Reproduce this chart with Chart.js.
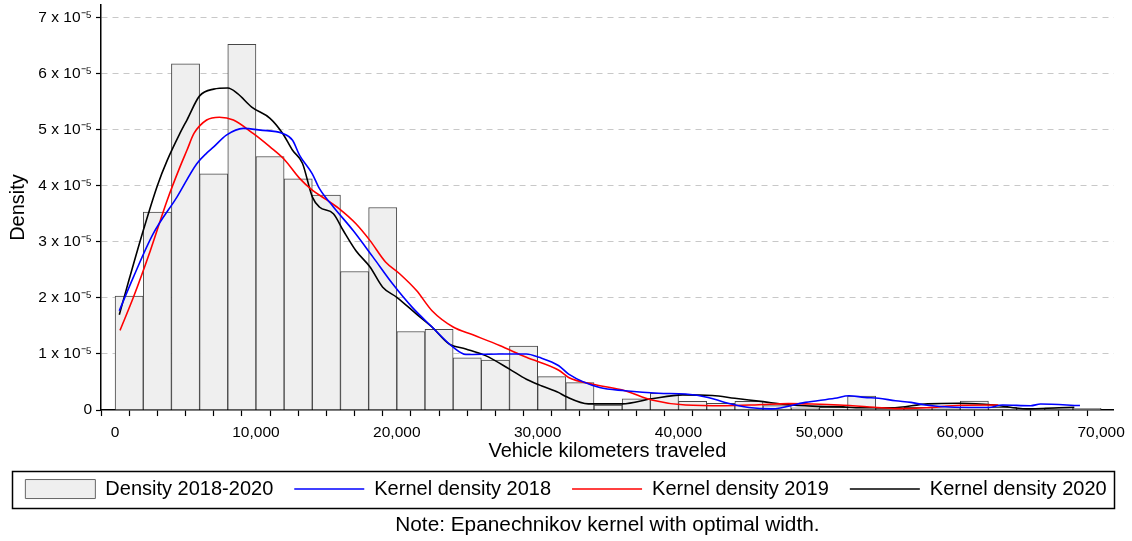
<!DOCTYPE html>
<html>
<head>
<meta charset="utf-8">
<script src="https://cdn.jsdelivr.net/npm/chart.js@4/dist/chart.umd.min.js"></script>
<style>
    html, body { margin: 0; padding: 0; background: #fff; }
</style>
</head>
<body>
<canvas id="vktChart" width="1132" height="541"></canvas>
<script>
// データ (density values are in units of 10^-5)
const binCenters = [
    1000, 3000, 5000, 7000, 9000, 11000, 13000, 15000, 17000, 19000,
    21000, 23000, 25000, 27000, 29000, 31000, 33000, 35000, 37000, 39000,
    41000, 43000, 45000, 47000, 49000, 51000, 53000, 55000, 57000, 59000,
    61000, 63000, 65000, 67000, 69000,
];
const binDensity = [
    2.03, 3.53, 6.17, 4.21, 6.52, 4.52, 4.12, 3.83, 2.47, 3.61,
    1.40, 1.44, 0.93, 0.89, 1.14, 0.595, 0.49, 0.09, 0.20, 0.30,
    0.155, 0.12, 0.155, 0.08, 0.04, 0.05, 0.25, 0.03, 0.05, 0.04,
    0.16, 0.05, 0.03, 0.04, 0.03,
];

const kde2018X = [
    300, 1300, 2700, 4400, 5800, 6500, 7000, 7900, 9100, 10300,
    11900, 12600, 13100, 14000, 14500, 15500, 16900, 18300, 19700, 21100,
    22500, 24000, 24900, 27300, 29200, 30100, 31500, 32200, 34400, 36200,
    38600, 40500, 42100, 43300, 45000, 46600, 49000, 51100, 52100, 53200,
    54200, 55400, 56500, 57500, 59600, 62000, 63000, 65000, 65700, 68500,
];
const kde2018Y = [
    1.77, 2.37, 3.14, 3.80, 4.39, 4.58, 4.69, 4.90, 5.02, 4.99,
    4.93, 4.81, 4.54, 4.21, 3.95, 3.62, 3.20, 2.73, 2.25, 1.83,
    1.48, 1.12, 0.99, 1.00, 1.00, 0.94, 0.79, 0.64, 0.40, 0.345,
    0.30, 0.285, 0.225, 0.136, 0.046, 0.02, 0.136, 0.21, 0.255, 0.225,
    0.21, 0.166, 0.136, 0.09, 0.05, 0.046, 0.09, 0.077, 0.107, 0.08,
];

const kde2019X = [
    350, 1300, 2500, 3700, 4600, 5100, 5600, 6500, 7400, 8400,
    9800, 11000, 12000, 13100, 14000, 15000, 15900, 17100, 18100, 19200,
    20200, 21400, 22500, 24000, 25400, 27300, 29200, 31500, 32200, 33900,
    36200, 38100, 40500, 43300, 45700, 47800, 49500, 51400, 53900, 55400,
    57600, 60000, 62700,
];
const kde2019Y = [
    1.42, 2.01, 2.84, 3.74, 4.33, 4.63, 4.93, 5.17, 5.22, 5.17,
    4.93, 4.69, 4.47, 4.13, 3.92, 3.75, 3.59, 3.32, 3.02, 2.64,
    2.43, 2.13, 1.77, 1.48, 1.34, 1.15, 0.94, 0.71, 0.58, 0.46,
    0.345, 0.18, 0.09, 0.077, 0.095, 0.115, 0.107, 0.09, 0.05, 0.025,
    0.04, 0.085, 0.09,
];

const kde2020X = [
    300, 1000, 2000, 3000, 3700, 4600, 5100, 6000, 7000, 8000,
    8700, 9700, 11000, 11900, 12600, 13300, 14000, 14500, 15500, 16200,
    17100, 18100, 19000, 20000, 21400, 22500, 23700, 24900, 26300, 28000,
    29200, 30300, 31500, 32000, 33600, 36000, 38100, 40300, 42400, 44000,
    46000, 47600, 49500, 51400, 53000, 55100, 57700, 60000, 62400, 64700,
    67000, 68100,
];
const kde2020Y = [
    1.70, 2.33, 3.20, 4.00, 4.45, 4.93, 5.17, 5.60, 5.72, 5.74,
    5.64, 5.40, 5.20, 4.93, 4.63, 4.40, 3.80, 3.62, 3.50, 3.20,
    2.84, 2.55, 2.19, 2.01, 1.71, 1.48, 1.18, 1.09, 0.97, 0.73,
    0.55, 0.43, 0.31, 0.24, 0.11, 0.11, 0.20, 0.27, 0.26, 0.21,
    0.15, 0.10, 0.07, 0.06, 0.04, 0.04, 0.11, 0.12, 0.09, 0.02,
    0.04, 0.05,
];

const seriesLabels = ['Density 2018-2020', 'Kernel density 2018', 'Kernel density 2019', 'Kernel density 2020'];
const yTickValues = [0, 1, 2, 3, 4, 5, 6, 7];
const xLabelStep = 10000;
const xTickStep = 2000;

const FONT = "'Liberation Sans', Arial, sans-serif";

function toPoints(xs, ys) {
    return xs.map((x, i) => ({ x: x, y: ys[i] }));
}

function kdeLine(label, color, xs, ys) {
    return {
        type: 'line',
        label: label,
        data: toPoints(xs, ys),
        borderColor: color,
        backgroundColor: color,
        borderWidth: 1.6,
        pointRadius: 0,
        fill: false,
        cubicInterpolationMode: 'monotone',
        order: 0,
    };
}

// legend frame
const legendFrame = {
    id: 'legendFrame',
    afterDraw(chart) {
        const lg = chart.legend;
        if (!lg || !lg.legendHitBoxes || !lg.legendHitBoxes.length) return;
        const hb = lg.legendHitBoxes[0];
        const cy = hb.top + hb.height / 2;
        const ctx = chart.ctx;
        ctx.save();
        ctx.strokeStyle = '#000';
        ctx.lineWidth = 1.5;
        ctx.strokeRect(12.5, Math.round(cy - 18.5) + 0.5, chart.width - 30, 37);
        ctx.restore();
    },
};

const ctx = document.getElementById('vktChart').getContext('2d');
new Chart(ctx, {
    type: 'bar',
    data: {
        datasets: [
            {
                type: 'bar',
                label: seriesLabels[0],
                data: toPoints(binCenters, binDensity),
                backgroundColor: '#efefef',
                borderColor: '#474747',
                borderWidth: 1,
                barPercentage: 1,
                categoryPercentage: 1,
                order: 1,
            },
            kdeLine(seriesLabels[1], '#0000ff', kde2018X, kde2018Y),
            kdeLine(seriesLabels[2], '#ff0000', kde2019X, kde2019Y),
            kdeLine(seriesLabels[3], '#000000', kde2020X, kde2020Y),
        ],
    },
    options: {
        responsive: false,
        animation: false,
        layout: { padding: { top: 5, right: 0, bottom: 0, left: 0 } },
        scales: {
            x: {
                type: 'linear',
                min: -1000,
                max: 70900,
                offset: false,
                afterBuildTicks: (scale) => {
                    const ticks = [];
                    for (let v = 0; v <= 70000; v += xTickStep) ticks.push({ value: v });
                    scale.ticks = ticks;
                },
                afterFit: (scale) => { scale.height = 48; },
                ticks: {
                    autoSkip: false,
                    maxRotation: 0,
                    padding: 7,
                    color: '#000',
                    font: { family: FONT, size: 15.5 },
                    callback: (v) => (v % xLabelStep === 0 ? v.toLocaleString('en-US') : ''),
                },
                grid: {
                    drawOnChartArea: false,
                    color: '#000',
                    tickLength: 6,
                    tickWidth: 1.2,
                },
                border: { color: '#000', width: 1.5 },
                title: {
                    display: true,
                    text: 'Vehicle kilometers traveled',
                    color: '#000',
                    font: { family: FONT, size: 20 },
                    padding: { top: 0, bottom: -5 },
                },
            },
            y: {
                type: 'linear',
                min: 0,
                max: 7.22,
                afterBuildTicks: (scale) => {
                    scale.ticks = yTickValues.map((v) => ({ value: v }));
                },
                afterFit: (scale) => {
                    scale.width = 101;
                    scale.paddingTop = 0;
                    scale.paddingBottom = 0;
                },
                ticks: {
                    padding: 4,
                    color: '#000',
                    font: { family: FONT, size: 15.5 },
                    callback: (v) => (v === 0 ? '0' : v + ' x 10\u207B\u2075'),
                },
                grid: {
                    color: (c) => (c.tick && c.tick.value === 0 ? 'rgba(0,0,0,0)' : '#c8c8c8'),
                    tickColor: '#000',
                    tickLength: 5,
                    tickWidth: 1.2,
                    lineWidth: 1,
                },
                border: { color: '#000', width: 1.5, dash: [6, 5] },
                title: {
                    display: true,
                    text: 'Density',
                    color: '#000',
                    font: { family: FONT, size: 20 },
                    padding: { top: 6, bottom: 0 },
                },
            },
            yRight: {
                type: 'linear',
                position: 'right',
                display: true,
                afterFit: (scale) => {
                    scale.width = 16;
                    scale.paddingTop = 0;
                    scale.paddingBottom = 0;
                },
                ticks: { display: false },
                grid: { display: false },
                border: { display: false },
            },
        },
        plugins: {
            legend: {
                position: 'bottom',
                labels: {
                    usePointStyle: true,
                    pointStyleWidth: 70,
                    boxHeight: 19,
                    padding: 21,
                    color: '#000',
                    font: { family: FONT, size: 20 },
                    sort: (a, b) => a.datasetIndex - b.datasetIndex,
                    generateLabels: (chart) =>
                        Chart.defaults.plugins.legend.labels.generateLabels(chart).map((item) => {
                            if (item.datasetIndex === 0) {
                                item.pointStyle = 'rect';
                                item.strokeStyle = '#666';
                                item.lineWidth = 1;
                            } else {
                                item.pointStyle = 'line';
                            }
                            return item;
                        }),
                },
            },
            title: {
                display: true,
                position: 'bottom',
                fullSize: false,
                text: 'Note: Epanechnikov kernel with optimal width.',
                color: '#000',
                font: { family: FONT, size: 20.8, weight: 'normal' },
                padding: { top: 4, bottom: 3 },
            },
            tooltip: { enabled: false },
        },
    },
    plugins: [legendFrame],
});
</script>
</body>
</html>
